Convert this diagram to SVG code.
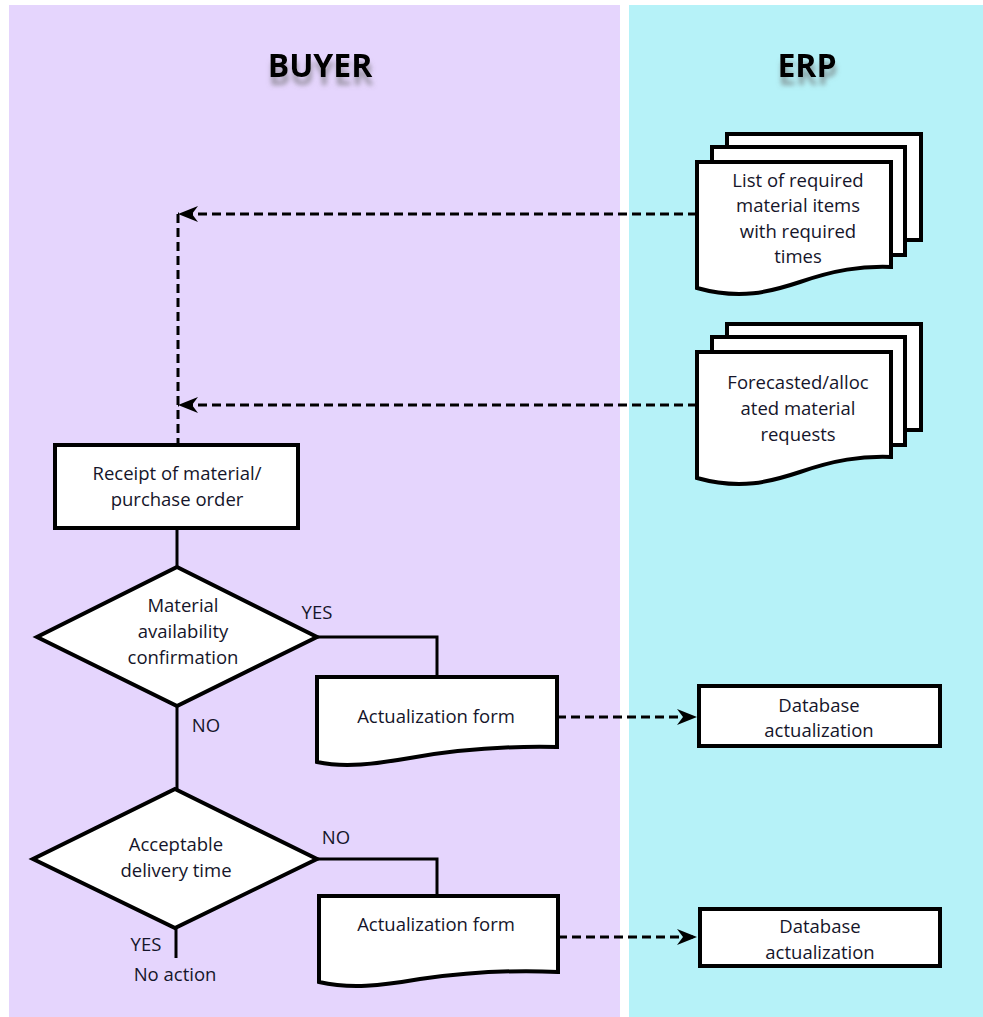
<svg xmlns="http://www.w3.org/2000/svg" width="983" height="1017" viewBox="0 0 983 1017">
  <style>
    .lbl { font-family: "Open Sans", "Liberation Sans", sans-serif; font-size: 18.5px; fill: #15152a; text-anchor: middle; }
    .ttl { font-family: "Open Sans", "Liberation Sans", sans-serif; font-size: 32px; font-weight: bold; fill: #000; text-anchor: middle; }
    .box { fill: #fff; stroke: #000; stroke-width: 4; stroke-linejoin: miter; }
    .line { fill: none; stroke: #000; stroke-width: 3; }
    .dash { fill: none; stroke: #000; stroke-width: 3; stroke-dasharray: 9 5; }
  </style>
  <defs>
    <marker id="arrow" markerUnits="userSpaceOnUse" markerWidth="24" markerHeight="20" viewBox="-2 -10 24 20" refX="20" refY="0" orient="auto">
      <path d="M0,-8 L20,0 L0,8 L6,0 z" fill="#000"/>
    </marker>
    <filter id="shadow" x="-20%" y="-30%" width="140%" height="190%">
      <feGaussianBlur in="SourceAlpha" stdDeviation="2.5" result="b"/>
      <feOffset in="b" dx="1" dy="8" result="o"/>
      <feFlood flood-color="#6a6a6a" flood-opacity="0.6"/>
      <feComposite in2="o" operator="in" result="s"/>
      <feMerge>
        <feMergeNode in="s"/>
        <feMergeNode in="SourceGraphic"/>
      </feMerge>
    </filter>
  </defs>

  <!-- lanes -->
  <rect width="983" height="1017" fill="#fff"/>
  <g id="lane-buyer">
    <rect x="9" y="5" width="611" height="1012" fill="#e5d5fd"/>
    <text class="ttl" x="320" y="77" filter="url(#shadow)">BUYER</text>
  </g>
  <g id="lane-erp">
    <rect x="629" y="5" width="354" height="1012" fill="#b6f2f8"/>
    <text class="ttl" x="807" y="77" filter="url(#shadow)">ERP</text>
  </g>

  <!-- connectors -->
  <g id="connectors">
    <path class="dash" d="M697,214 H178" marker-end="url(#arrow)"/>
    <path class="dash" d="M697,405 H178" marker-end="url(#arrow)"/>
    <path class="dash" d="M178,214 V445"/>
    <path class="line" d="M177,528 V567"/>
    <path class="line" d="M317,637 H437 V677"/>
    <path class="line" d="M177,706 V789"/>
    <path class="line" d="M317,859 H437 V896"/>
    <path class="line" d="M176,928 V958"/>
    <path class="dash" d="M557,717 H697" marker-end="url(#arrow)"/>
    <path class="dash" d="M558,937 H697" marker-end="url(#arrow)"/>
    <text class="lbl" x="317" y="619">YES</text>
    <text class="lbl" x="206" y="732">NO</text>
    <text class="lbl" x="336" y="844">NO</text>
    <text class="lbl" x="146" y="951">YES</text>
    <text class="lbl" x="175" y="981">No action</text>
  </g>

  <!-- ERP documents -->
  <g id="doc-required-list">
    <rect class="box" x="727" y="134" width="194" height="106"/>
    <rect class="box" x="712" y="147" width="193" height="108"/>
    <path class="box" d="M697,162 H891 V267 C860,266 835,270 800,282 C770,292 740,300 697,288 Z"/>
    <text class="lbl" x="798" y="187">List of required</text>
    <text class="lbl" x="798" y="212">material items</text>
    <text class="lbl" x="798" y="238">with required</text>
    <text class="lbl" x="798" y="263">times</text>
  </g>
  <g id="doc-forecasted">
    <rect class="box" x="727" y="324" width="194" height="106"/>
    <rect class="box" x="712" y="337" width="193" height="108"/>
    <path class="box" d="M697,352 H891 V457 C860,456 835,460 800,472 C770,482 740,490 697,478 Z"/>
    <text class="lbl" x="798" y="389">Forecasted/alloc</text>
    <text class="lbl" x="798" y="415">ated material</text>
    <text class="lbl" x="798" y="441">requests</text>
  </g>

  <!-- buyer process -->
  <g id="receipt">
    <rect class="box" x="55" y="445" width="243" height="83"/>
    <text class="lbl" x="177" y="480">Receipt of material/</text>
    <text class="lbl" x="177" y="506">purchase order</text>
  </g>
  <g id="availability">
    <path class="box" d="M177,567 L317,637 L177,706 L37,637 Z"/>
    <text class="lbl" x="183" y="612">Material</text>
    <text class="lbl" x="183" y="638">availability</text>
    <text class="lbl" x="183" y="664">confirmation</text>
  </g>
  <g id="delivery-time">
    <path class="box" d="M175,789 L317,859 L175,928 L33,859 Z"/>
    <text class="lbl" x="176" y="851">Acceptable</text>
    <text class="lbl" x="176" y="877">delivery time</text>
  </g>
  <g id="form-1">
    <path class="box" d="M317,677 H557 V747 C510,746 460,749 410,758 C375,764 345,768 317,762 Z"/>
    <text class="lbl" x="436" y="723">Actualization form</text>
  </g>
  <g id="form-2">
    <path class="box" d="M319,896 H558 V972 C520,970 470,972 420,979 C380,986 350,989 319,982 Z"/>
    <text class="lbl" x="436" y="931">Actualization form</text>
  </g>

  <!-- ERP updates -->
  <g id="db-update-1">
    <rect class="box" x="699" y="686" width="241" height="60" stroke-width="5"/>
    <text class="lbl" x="819" y="712">Database</text>
    <text class="lbl" x="819" y="737">actualization</text>
  </g>
  <g id="db-update-2">
    <rect class="box" x="700" y="909" width="240" height="57" stroke-width="5"/>
    <text class="lbl" x="820" y="933">Database</text>
    <text class="lbl" x="820" y="959">actualization</text>
  </g>
</svg>
